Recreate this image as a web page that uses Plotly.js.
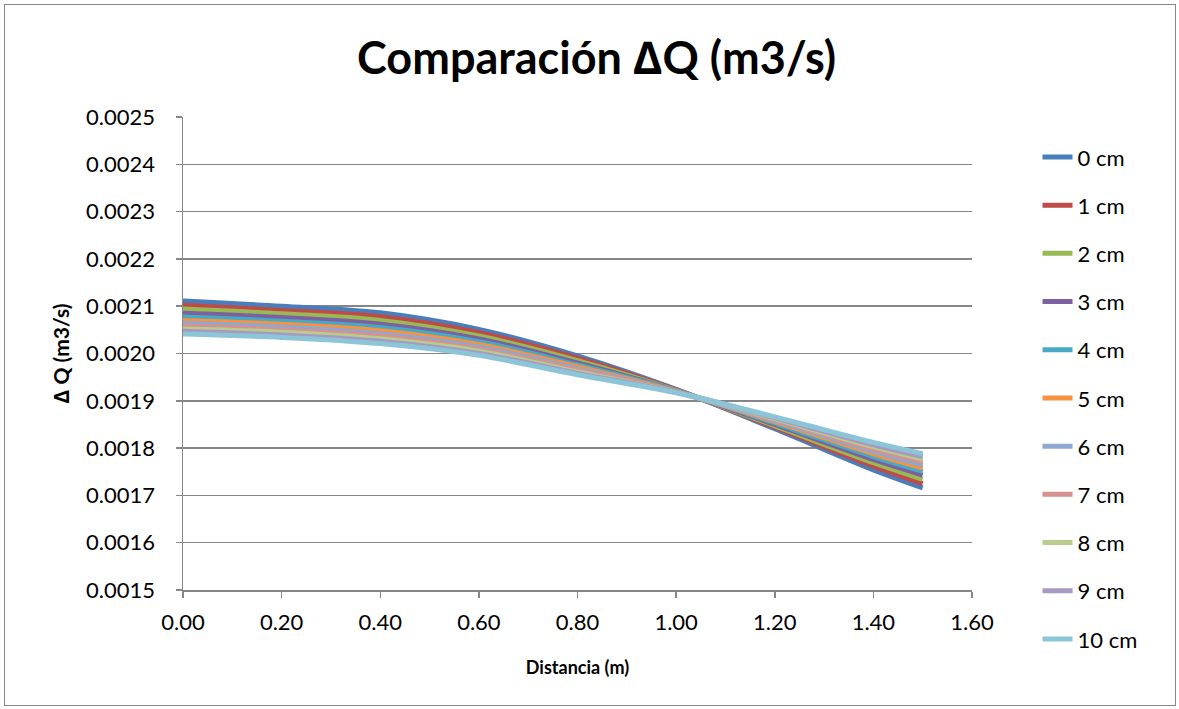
<!DOCTYPE html>
<html>
<head>
<meta charset="utf-8">
<script src="https://cdn.plot.ly/plotly-3.0.1.min.js"></script>
<style>
html,body{margin:0;padding:0;background:#fff;}
#chart{width:1179px;height:709px;}
#frame{position:absolute;left:4px;top:4px;width:1170px;height:700px;border:1px solid #888;pointer-events:none;}
</style>
</head>
<body>
<div id="chart"></div>
<div id="frame"></div>
<script>
var distancia = [0, 0.2, 0.4, 0.6, 0.8, 1.0, 1.2, 1.4, 1.5];
var seriesNames = ["0 cm","1 cm","2 cm","3 cm","4 cm","5 cm","6 cm","7 cm","8 cm","9 cm","10 cm"];
var q0  = [0.002111,0.002100,0.002086,0.002051,0.001995,0.001924,0.001841,0.001754,0.001716];
var q1  = [0.002102,0.002091,0.002078,0.002044,0.001990,0.001923,0.001844,0.001762,0.001725];
var q2  = [0.002094,0.002084,0.002070,0.002037,0.001985,0.001922,0.001847,0.001769,0.001734];
var q3  = [0.002085,0.002076,0.002062,0.002031,0.001980,0.001921,0.001850,0.001776,0.001743];
var q4  = [0.002077,0.002068,0.002055,0.002025,0.001976,0.001921,0.001853,0.001782,0.001751];
var q5  = [0.002070,0.002062,0.002048,0.002019,0.001972,0.001920,0.001856,0.001788,0.001758];
var q6  = [0.002064,0.002056,0.002042,0.002014,0.001968,0.001919,0.001858,0.001793,0.001764];
var q7  = [0.002058,0.002050,0.002037,0.002009,0.001965,0.001919,0.001860,0.001798,0.001771];
var q8  = [0.002052,0.002045,0.002031,0.002005,0.001961,0.001918,0.001862,0.001803,0.001777];
var q9  = [0.002047,0.002039,0.002026,0.002000,0.001958,0.001918,0.001864,0.001807,0.001782];
var q10 = [0.002041,0.002034,0.002021,0.001996,0.001955,0.001917,0.001866,0.001812,0.001788];
var seriesValues = [q0,q1,q2,q3,q4,q5,q6,q7,q8,q9,q10];
var colors = ["#4A7EBB","#BE4B48","#98B954","#7D60A0","#46AAC5","#F69240","#8EA8D2","#D49290","#B6CD8E","#A899C2","#8CC5D8"];
var font = "Lato, 'Open Sans', sans-serif";

var traces = seriesValues.map(function(v, i){
  return {
    x: distancia, y: v, name: seriesNames[i], type: 'scatter', mode: 'lines',
    line: {color: colors[i], width: 5, shape: 'spline', smoothing: 1},
    legendgroup: 'g'+i
  };
});

var layout = {
  width: 1179, height: 709,
  margin: {l: 183, r: 207, t: 117, b: 119, autoexpand: false},
  paper_bgcolor: '#fff', plot_bgcolor: '#fff',
  font: {family: font, color: '#000', size: 23},
  title: {text: '<b>Comparación ∆Q (m3/s)</b>', font: {family: font, size: 45, color: '#000'},
          x: 0.506, xanchor: 'center', y: 0.918, yanchor: 'middle'},
  xaxis: {
    range: [0, 1.6], dtick: 0.2, tick0: 0, tickformat: '.2f',
    showgrid: false, zeroline: false, showline: true, linecolor: '#868686', linewidth: 1.5,
    ticks: 'outside', ticklen: 6, tickcolor: '#868686', tickwidth: 1.5,
    ticklabelstandoff: 6,
    tickfont: {family: font, size: 22, color: '#000'},
    title: {text: '<b>Distancia (m)</b>', font: {family: font, size: 18, color: '#000'}, standoff: 27}
  },
  yaxis: {
    range: [0.0015, 0.0025], dtick: 0.0001, tick0: 0.0015, tickformat: '.4f',
    showgrid: true, gridcolor: '#868686', gridwidth: 1.5, zeroline: false,
    showline: true, linecolor: '#868686', linewidth: 1.5,
    ticks: 'outside', ticklen: 6, tickcolor: '#868686', tickwidth: 1.5,
    ticklabelstandoff: 16,
    tickfont: {family: font, size: 22, color: '#000'},
    title: {text: '<b>∆ Q (m3/s)</b>', font: {family: font, size: 21, color: '#000'}, standoff: 10}
  },
  legend: {
    xref: 'container', x: 0.88, xanchor: 'left',
    yref: 'container', y: 0.808, yanchor: 'top',
    font: {family: font, size: 22, color: '#000'},
    tracegroupgap: 16.6, itemwidth: 30, maxheight: 640,
    bgcolor: 'rgba(0,0,0,0)'
  },
  showlegend: true
};

Plotly.newPlot('chart', traces, layout, {displayModeBar: false, staticPlot: true});
</script>
</body>
</html>
